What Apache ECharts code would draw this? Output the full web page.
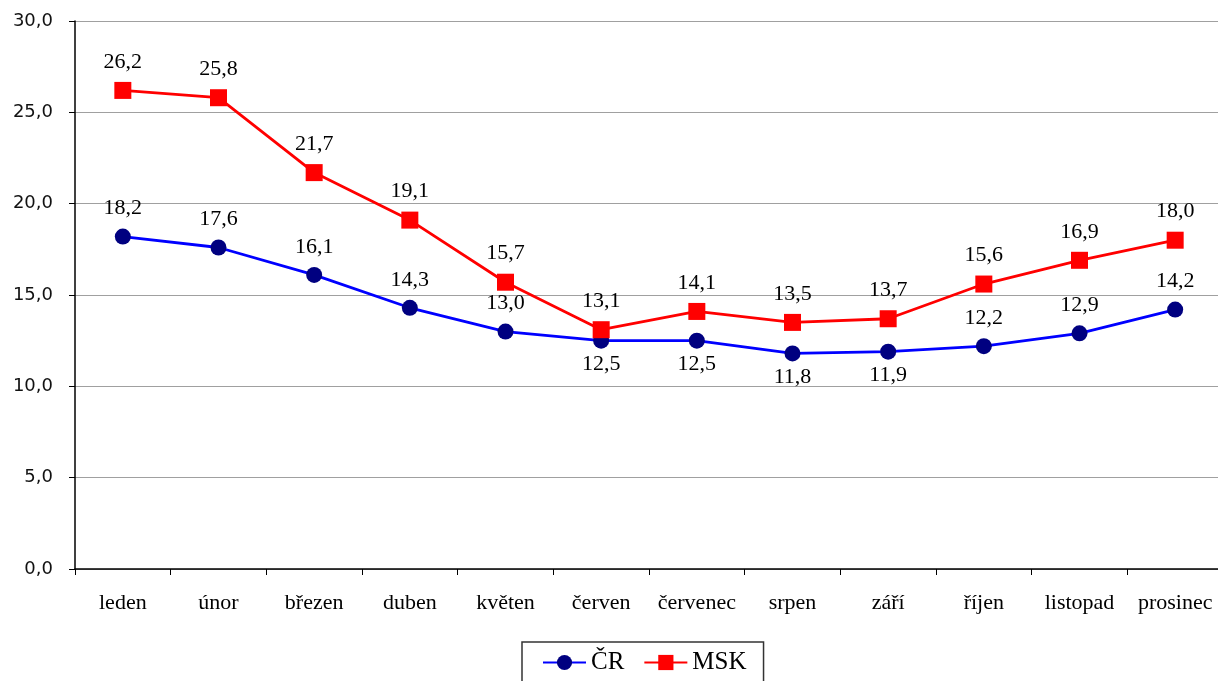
<!DOCTYPE html>
<html><head><meta charset="utf-8">
<script src="https://cdn.jsdelivr.net/npm/echarts@6/dist/echarts.min.js"></script>
<style>html,body{margin:0;padding:0;background:#fff}#c{width:1218px;height:681px}</style>
</head><body><div id="c"></div>
<script>
const categories = ['leden','únor','březen','duben','květen','červen','červenec','srpen','září','říjen','listopad','prosinec'];
const crValues = [18.2,17.6,16.1,14.3,13.0,12.5,12.5,11.8,11.9,12.2,12.9,14.2];
const mskValues = [26.2,25.8,21.7,19.1,15.7,13.1,14.1,13.5,13.7,15.6,16.9,18.0];
const crLabelBelow = [false,false,false,false,false,true,true,true,true,false,false,false];
const fmt = v => v.toFixed(1).replace('.', ',');
const serif = 'Liberation Serif';
const chart = echarts.init(document.getElementById('c'));
chart.setOption({
  animation: false,
  backgroundColor: '#fff',
  grid: {left: 75, width: 1148, top: 21, height: 548, outerBoundsMode: 'none', containLabel: false},
  legend: {
    top: 642, left: 522,
    borderColor: '#333', borderWidth: 1.5, padding: [8, 17, 14, 20],
    itemWidth: 43, itemHeight: 19, itemGap: 19,
    textStyle: {fontFamily: serif, fontSize: 25, color: '#000'},
    data: ['ČR', 'MSK']
  },
  xAxis: {
    type: 'category', data: categories, boundaryGap: true,
    axisLine: {lineStyle: {color: '#000', width: 1.5}},
    axisTick: {show: true, alignWithLabel: false, length: 6, lineStyle: {color: '#000'}},
    axisLabel: {fontFamily: serif, fontSize: 22, color: '#000', margin: 23, interval: 0},
    splitLine: {show: false}
  },
  yAxis: {
    type: 'value', min: 0, max: 30, interval: 5,
    axisLine: {show: true, lineStyle: {color: '#000', width: 1.5}},
    axisTick: {show: true, length: 6, lineStyle: {color: '#000'}},
    axisLabel: {fontFamily: 'DejaVu Sans', fontSize: 18, color: '#111', margin: 22, formatter: v => fmt(v)},
    splitLine: {lineStyle: {color: '#a0a0a0', width: 1.2}}
  },
  series: [
    {
      name: 'ČR', type: 'line',
      data: crValues.map((v, i) => ({value: v, label: {position: crLabelBelow[i] ? 'bottom' : 'top', distance: crLabelBelow[i] ? 5 : 9}})),
      symbol: 'circle', symbolSize: 16,
      lineStyle: {color: '#0000ff', width: 2.8},
      itemStyle: {color: '#000080'},
      label: {show: true, fontFamily: serif, fontSize: 22, color: '#000', formatter: p => fmt(p.value)},
      z: 3
    },
    {
      name: 'MSK', type: 'line',
      data: mskValues,
      symbol: 'rect', symbolSize: 17,
      lineStyle: {color: '#ff0000', width: 2.8},
      itemStyle: {color: '#ff0000'},
      label: {show: true, position: 'top', distance: 9, fontFamily: serif, fontSize: 22, color: '#000', formatter: p => fmt(p.value)},
      z: 4
    }
  ]
});
</script></body></html>
